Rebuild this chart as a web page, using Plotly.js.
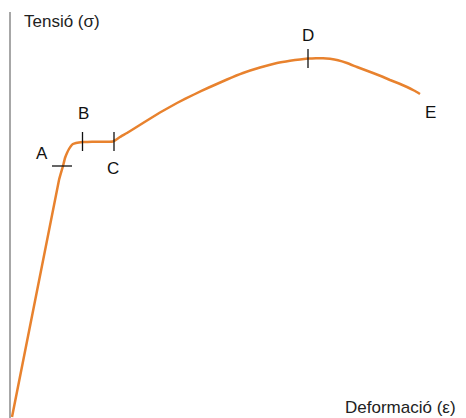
<!DOCTYPE html>
<html>
<head>
<meta charset="utf-8">
<script src="https://cdn.plot.ly/plotly-3.0.1.min.js"></script>
<style>html,body{margin:0;padding:0;background:#fff;}#chart{width:466px;height:418px;}</style>
</head>
<body>
<div id="chart"></div>
<script>
// Stress-strain curve (arbitrary units)
const strain = [0, 47, 51, 53, 55, 57, 59, 61, 64, 67, 71, 80, 88, 95, 101, 104, 108, 115, 131, 148, 165, 182, 198, 215, 231, 248, 265, 278, 288, 296, 304, 311, 318, 326, 335, 345, 353, 361, 370, 378, 387, 395, 402, 408];
const stress = [0, 237, 251, 259, 264, 268, 271, 273, 274, 274.6, 275, 275.2, 275.2, 275.2, 275.5, 277.3, 280, 284, 294, 304.5, 314, 322.5, 330, 337.5, 344, 349.5, 354, 356.3, 357.6, 358.4, 358.8, 358.8, 358.2, 356.8, 354, 350, 347, 344, 340.5, 337, 333.5, 330, 326.5, 323];

// Key points
const pointNames = ["A", "B", "C", "D", "E"];
const pointX = [51, 70.5, 102, 296, 408];
const pointY = [251, 275, 275, 358, 323];
const labelX = [30, 71, 101, 296, 418];
const labelY = [264, 304, 249, 382, 305];
const markOrient = ["h", "v", "v", "v", ""];

const xTitle = "Deformació (ε)";
const yTitle = "Tensió (σ)";

const FONT = "Liberation Sans, Arial, sans-serif";

const traces = [{
  x: strain, y: stress, type: "scatter", mode: "lines",
  line: {color: "#e8822e", width: 2.5, shape: "spline", smoothing: 0.3},
  hoverinfo: "skip", showlegend: false
}];

// tick marks at points
pointNames.forEach((n, i) => {
  if (markOrient[i] === "h") {
    traces.push({x: [pointX[i] - 11, pointX[i] + 9], y: [pointY[i], pointY[i]], type: "scatter", mode: "lines",
      line: {color: "#111", width: 1.3}, showlegend: false, hoverinfo: "skip"});
  } else if (markOrient[i] === "v") {
    traces.push({x: [pointX[i], pointX[i]], y: [pointY[i] - 9, pointY[i] + 10], type: "scatter", mode: "lines",
      line: {color: "#111", width: 1.3}, showlegend: false, hoverinfo: "skip"});
  }
});

const annotations = pointNames.map((n, i) => ({
  x: labelX[i], y: labelY[i], text: n, showarrow: false, xanchor: "center", yanchor: "middle",
  font: {family: FONT, size: 17, color: "#111"}
}));
annotations.push({x: 10, y: 396, text: yTitle, showarrow: false, xanchor: "left", yanchor: "middle",
  font: {family: FONT, size: 17, color: "#222"}});
annotations.push({x: 446, y: 10, text: xTitle, showarrow: false, xanchor: "right", yanchor: "middle",
  font: {family: FONT, size: 17, color: "#222"}});

const layout = {
  width: 466, height: 418,
  margin: {l: 0, r: 0, t: 0, b: 0},
  paper_bgcolor: "#fff", plot_bgcolor: "#fff",
  xaxis: {range: [-12, 454], visible: false, fixedrange: true},
  yaxis: {range: [-1, 417], visible: false, fixedrange: true},
  shapes: [{type: "line", xref: "x", yref: "y", x0: -2, x1: -2, y0: -1, y1: 405,
    line: {color: "#8a8a8a", width: 1.5}}],
  annotations: annotations,
  showlegend: false
};

Plotly.newPlot("chart", traces, layout, {displayModeBar: false, staticPlot: true});
</script>
</body>
</html>
